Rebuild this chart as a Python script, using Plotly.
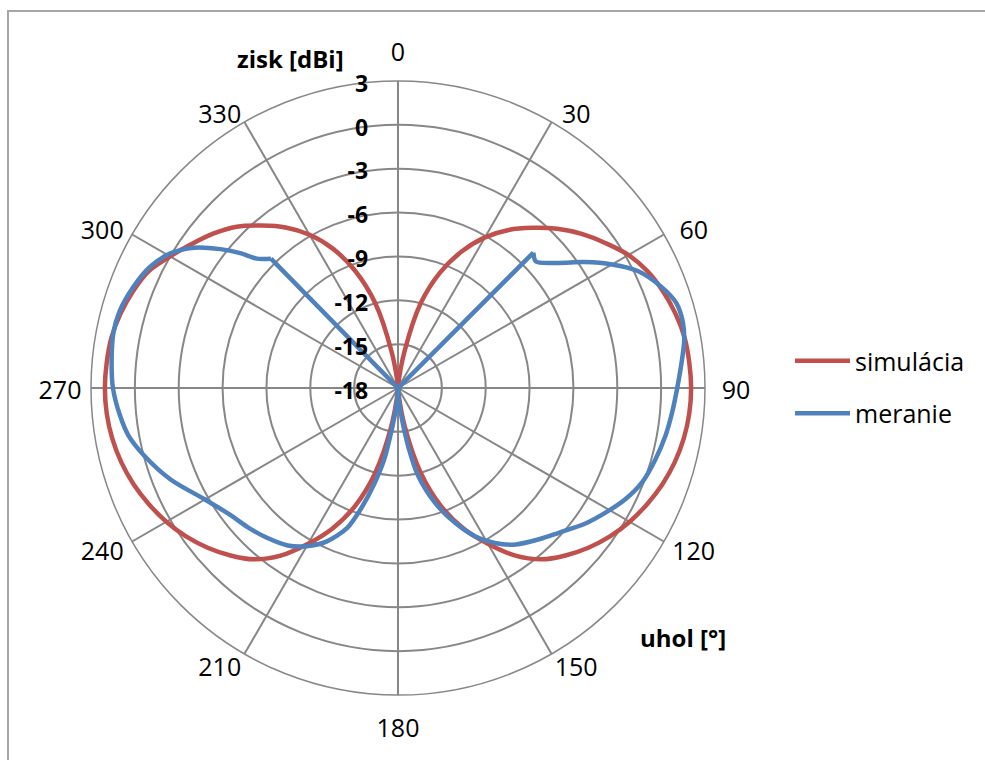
import plotly.graph_objects as go

# ---- data ----
angle_ticks = [0, 30, 60, 90, 120, 150, 180, 210, 240, 270, 300, 330]
angle_labels = [str(a) for a in angle_ticks]
radial_ticks = [-18, -15, -12, -9, -6, -3, 0, 3]
radial_labels = [str(v) for v in radial_ticks]

# simulation (every 5 degrees, 0..360)
sim_theta = list(range(0, 365, 5))
sim_r = [-18, -17.6, -15.5, -12.0, -9.6, -7.7, -6.1, -4.8, -3.7, -2.6, -1.6, -0.7, 0.2,
         0.85, 1.3, 1.65, 1.9, 2.0, 2.05,
         2.0, 1.85, 1.6, 1.25, 0.8, 0.3, -0.3, -1.0, -1.8, -2.7, -4.0, -5.7, -7.4,
         -9.4, -12.0, -15.3, -17.6, -18,
         -17.6, -15.3, -12.0, -9.4, -7.4, -5.7, -4.0, -2.7, -1.8, -1.0, -0.3, 0.3, 0.8,
         1.25, 1.6, 1.85, 2.0, 2.05,
         2.0, 1.9, 1.65, 1.3, 0.85, 0.0, -0.8, -1.55, -2.4, -3.5, -4.6, -5.9, -7.5,
         -9.5, -12.0, -15.5, -17.6, -18]

# measurement
meas_theta = [0, 45, 47.5, 52, 56, 60, 64, 69, 73, 77, 80.5, 84, 90, 95, 100, 105.5,
              111, 116, 121, 126, 132, 137, 143, 148, 152.5, 157, 162, 167, 170, 173,
              176, 180, 184, 188, 191, 194, 197, 200, 205, 210, 215, 221, 227, 233,
              240, 248, 255, 260, 264.5, 270, 275.5, 281, 285.5, 291, 296, 300.5,
              304.5, 308, 310.5, 312.5, 315.5]
meas_r = [-18, -4.9, -5.2, -4.1, -2.6, -1.1, 0.25, 1.3, 1.9, 2.0, 1.85, 1.55, 1.1,
          0.83, 0.59, 0.27, -0.09, -0.68, -1.44, -2.2, -3.2, -3.85, -4.6, -5.5,
          -6.55, -7.96, -9.7, -11.8, -13.9, -16.0, -17.2, -18, -17.0, -15.5, -13.0,
          -11.2, -9.4, -7.8, -6.4, -5.5, -4.85, -4.4, -4.0, -3.6, -2.75, -1.25,
          -0.05, 0.72, 1.12, 1.5, 1.68, 1.83, 1.75, 1.37, 0.88, 0.11, -1.06, -2.57,
          -3.8, -4.9, -5.6]

RED = "#C0504D"
BLUE = "#4F81BD"
GRID = "#878787"
FONT = "Open Sans"
R_MIN, R_MAX = -18, 3
OUTER_MAX = 6           # range of the invisible label subplot

W, H = 985, 760
cx, cy, R = 398, 388, 307
PX_PER_UNIT = R / (R_MAX - R_MIN)
R2 = R * (OUTER_MAX - R_MIN) / (R_MAX - R_MIN)
LABEL_SHIFT = 5         # px the label subplot is moved down (text baseline correction)


def label_radius(a):
    """Distance (in axis units) of an angle label from the centre, like Excel."""
    px = 338 if a % 90 == 0 else (336.5 if a % 60 == 0 else 329)
    return R_MIN + px / PX_PER_UNIT


def label_theta(a):
    """Excel nudges the oblique labels slightly towards the horizontal."""
    if a % 90 == 0:
        return a
    off = 1.5 if a % 60 == 0 else 2.8
    return a + off if (a % 180) < 90 else a - off


fig = go.Figure()

# simulation: two lobes (right 0..180, left 180..360), smoothed
mid = sim_theta.index(180)
for i, (th, rr) in enumerate([(sim_theta[:mid + 1], sim_r[:mid + 1]),
                              (sim_theta[mid:], sim_r[mid:])]):
    fig.add_trace(go.Scatterpolar(
        r=rr, theta=th, mode="lines", name="simulácia",
        legendgroup="a", showlegend=(i == 0),
        line=dict(color=RED, width=4.5, shape="spline", smoothing=1)))

# measurement: smooth main curve from 45 deg to 315.5 deg ...
fig.add_trace(go.Scatterpolar(
    r=meas_r[1:], theta=meas_theta[1:], mode="lines", name="meranie",
    legendgroup="b", showlegend=True,
    line=dict(color=BLUE, width=4.5, shape="spline", smoothing=0.8)))
# ... and the straight part through the origin (315.5 -> 0 -> 45)
fig.add_trace(go.Scatterpolar(
    r=[meas_r[-1], meas_r[0], meas_r[1]],
    theta=[meas_theta[-1], meas_theta[0] + 360, meas_theta[1] + 360],
    mode="lines", name="meranie", legendgroup="b", showlegend=False,
    line=dict(color=BLUE, width=4.5)))

# radial tick labels (bold, left of the 0-degree spoke) on the label subplot
fig.add_trace(go.Scatterpolar(
    r=radial_ticks, theta=[0] * len(radial_ticks), mode="text",
    text=["<b>" + t + "</b>" + "\u00a0" * 5 for t in radial_labels],
    textposition="middle left", showlegend=False, hoverinfo="skip",
    subplot="polar2", cliponaxis=False,
    textfont=dict(family=FONT, size=23, color="black")))

# angular tick labels just outside the rim (on the invisible, concentric subplot)
fig.add_trace(go.Scatterpolar(
    r=[label_radius(a) for a in angle_ticks],
    theta=[label_theta(a) for a in angle_ticks], mode="text",
    text=angle_labels, textposition="middle center", cliponaxis=False,
    showlegend=False, hoverinfo="skip", subplot="polar2",
    textfont=dict(family=FONT, size=25, color="black")))

hidden_axis = dict(visible=False, showgrid=False, showline=False,
                   showticklabels=False, ticks="")
cy2 = cy + LABEL_SHIFT
fig.update_layout(
    width=W, height=H,
    margin=dict(l=0, r=0, t=0, b=0),
    paper_bgcolor="white",
    font=dict(family=FONT, color="black"),
    polar=dict(
        domain=dict(x=[(cx - R) / W, (cx + R) / W],
                    y=[1 - (cy + R) / H, 1 - (cy - R) / H]),
        bgcolor="white",
        angularaxis=dict(
            rotation=90, direction="clockwise",
            tickmode="array", tickvals=angle_ticks, ticktext=angle_labels,
            showticklabels=False, ticks="",
            showgrid=True, gridcolor=GRID, gridwidth=1.5,
            showline=True, linecolor=GRID, linewidth=1.5,
        ),
        radialaxis=dict(
            range=[R_MIN, R_MAX], tickmode="array", tickvals=radial_ticks,
            angle=90, showline=False, showticklabels=False, ticks="",
            showgrid=True, gridcolor=GRID, gridwidth=1.5,
        ),
    ),
    polar2=dict(
        domain=dict(x=[(cx - R2) / W, (cx + R2) / W],
                    y=[1 - (cy2 + R2) / H, 1 - (cy2 - R2) / H]),
        bgcolor="rgba(0,0,0,0)",
        angularaxis=dict(rotation=90, direction="clockwise", **hidden_axis),
        radialaxis=dict(range=[R_MIN, OUTER_MAX], **hidden_axis),
    ),
    showlegend=True,
    legend=dict(
        x=790 / W, y=1 - 338 / H, xanchor="left", yanchor="top",
        font=dict(family=FONT, size=25, color="black"),
        traceorder="grouped", tracegroupgap=17, itemwidth=55,
        bgcolor="rgba(0,0,0,0)",
    ),
    annotations=[
        dict(text="<b>zisk [dBi]</b>", x=290 / W, y=1 - 58 / H, xref="paper",
             yref="paper", xanchor="center", yanchor="middle", showarrow=False,
             font=dict(family=FONT, size=24)),
        dict(text="<b>uhol [°]</b>", x=683 / W, y=1 - 637 / H, xref="paper",
             yref="paper", xanchor="center", yanchor="middle", showarrow=False,
             font=dict(family=FONT, size=24)),
    ],
    shapes=[
        dict(type="rect", xref="paper", yref="paper",
             x0=8 / W, x1=1.2, y0=-0.2, y1=1 - 11 / H,
             line=dict(color="#A6A6A6", width=2), layer="below"),
    ],
)

fig.write_html("out.html", config={"displayModeBar": False},
               post_script="document.body.style.margin='0';")
